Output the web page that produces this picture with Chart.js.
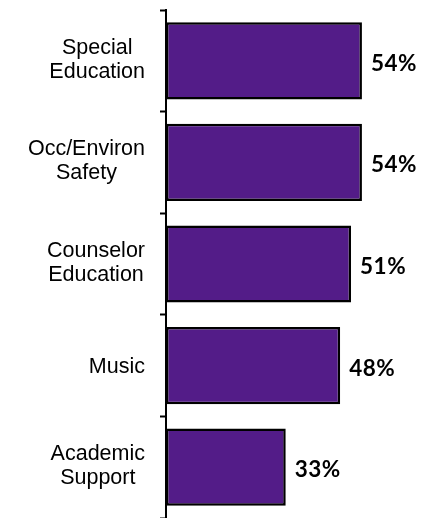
<!DOCTYPE html>
<html>
<head>
<meta charset="utf-8">
<script src="https://cdn.jsdelivr.net/npm/chart.js@4/dist/chart.umd.min.js"></script>
<style>
  html, body { margin: 0; padding: 0; background: #fff; }
  #wrap { width: 425px; height: 518px; }
</style>
</head>
<body>
<div id="wrap"><canvas id="c" width="425" height="518"></canvas></div>
<script>
// Programs, listed top to bottom (each entry is one label, split into lines)
const categories = [
  ['Special', 'Education'],
  ['Occ/Environ', 'Safety'],
  ['Counselor', 'Education'],
  ['Music'],
  ['Academic', 'Support']
];
// Percentage for each program
const shares = [54, 54, 51, 48, 33];
// Horizontal value range
const xMin = 0;
const xMax = 70;

const BAR_FILL = '#531C88';
const LABEL_FONT = '21.5px "Liberation Sans", Arial, sans-serif';
const VALUE_FONT = 'bold 22.5px Lato, "Open Sans", sans-serif';

// Category names: each label block sits flush against the axis, with
// its lines centred on one another.
const categoryLabels = {
  id: 'categoryLabels',
  afterDraw(chart) {
    const yScale = chart.scales.y;
    const ctx = chart.ctx;
    const rightEdge = chart.chartArea.left - 21;
    const lineGap = 24;
    ctx.save();
    ctx.font = LABEL_FONT;
    ctx.fillStyle = '#000';
    ctx.textAlign = 'center';
    ctx.textBaseline = 'alphabetic';
    categories.forEach((lines, i) => {
      const cy = yScale.getPixelForValue(i);
      const w = Math.max(...lines.map(l => ctx.measureText(l).width));
      const cx = rightEdge - w / 2;
      const n = lines.length;
      const shift = n > 1 ? 5 : 7.5;
      lines.forEach((line, k) => {
        ctx.fillText(line, cx, cy + shift + (k - (n - 1) / 2) * lineGap);
      });
    });
    ctx.restore();
  }
};

// Percentage printed just past the end of each bar
const valueLabels = {
  id: 'valueLabels',
  afterDatasetsDraw(chart) {
    const meta = chart.getDatasetMeta(0);
    const ctx = chart.ctx;
    ctx.save();
    ctx.font = VALUE_FONT;
    ctx.fillStyle = '#000';
    ctx.textAlign = 'left';
    ctx.textBaseline = 'alphabetic';
    if ('letterSpacing' in ctx) ctx.letterSpacing = '0.5px';
    meta.data.forEach((bar, i) => {
      ctx.fillText(shares[i] + '%', bar.x + 9, bar.y + 10);
    });
    ctx.restore();
  }
};

new Chart(document.getElementById('c'), {
  type: 'bar',
  data: {
    labels: categories,
    datasets: [{
      data: shares,
      backgroundColor: BAR_FILL,
      borderColor: '#000',
      borderWidth: 2.5,
      borderSkipped: false,
      categoryPercentage: 1,
      barPercentage: 0.76
    }]
  },
  options: {
    indexAxis: 'y',
    responsive: false,
    devicePixelRatio: 1,
    animation: false,
    layout: { padding: { top: 10, bottom: 0, left: 0, right: 5 } },
    plugins: {
      legend: { display: false },
      tooltip: { enabled: false }
    },
    scales: {
      x: {
        display: false,
        min: xMin,
        max: xMax
      },
      y: {
        offset: true,
        grid: {
          display: true,
          offset: true,
          drawOnChartArea: false,
          drawTicks: true,
          tickLength: 6,
          tickWidth: 2,
          color: '#000'
        },
        border: { display: true, color: '#000', width: 2 },
        ticks: { display: false },
        afterFit(scale) { scale.width = 166; }
      }
    }
  },
  plugins: [categoryLabels, valueLabels]
});
</script>
</body>
</html>
